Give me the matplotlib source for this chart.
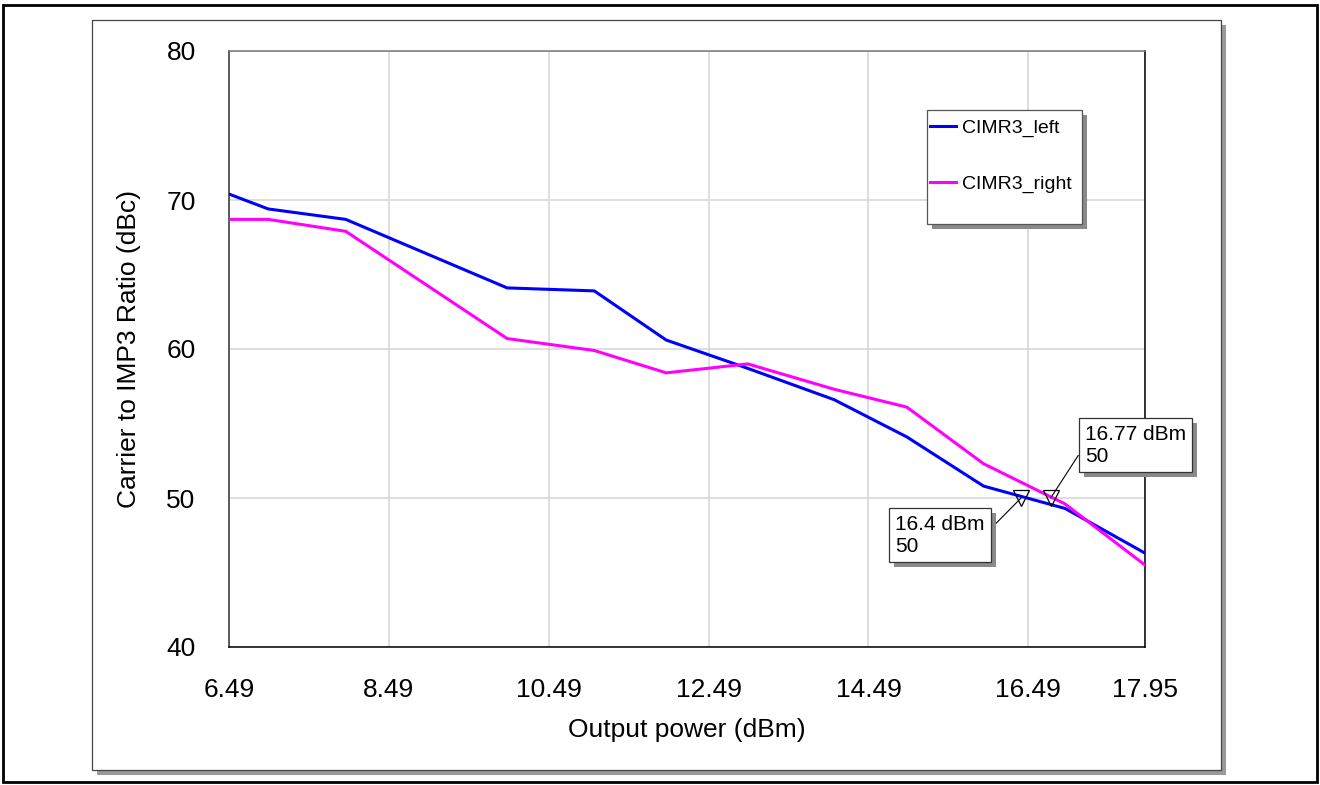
import matplotlib
matplotlib.use("Agg")
import matplotlib.pyplot as plt
import matplotlib.patheffects as pe
from matplotlib.patches import Rectangle

plt.rcParams["font.family"] = ["Liberation Sans", "DejaVu Sans"]

# ---- data -----------------------------------------------------------
out_power = [6.49, 6.98, 7.95, 9.97, 11.06, 11.96, 12.98, 14.06, 14.97, 15.93, 16.95, 17.95]
cimr3_left = [70.4, 69.4, 68.7, 64.1, 63.9, 60.6, 58.7, 56.6, 54.1, 50.8, 49.3, 46.3]
cimr3_right = [68.7, 68.7, 67.9, 60.7, 59.9, 58.4, 59.0, 57.3, 56.1, 52.3, 49.6, 45.5]

x_ticks = [6.49, 8.49, 10.49, 12.49, 14.49, 16.49, 17.95]
y_ticks = [40, 50, 60, 70, 80]

marker_x = [16.4, 16.77]
marker_y = [50, 50]
marker_text = ["16.4 dBm\n50", "16.77 dBm\n50"]
# ----------------------------------------------------------------------

W, H = 1320, 785


def fx(x):
    return x / W


def fy(y):
    # pixel y from top -> figure fraction from bottom
    return 1 - y / H


def shadow(off=3.6, color="#999999"):
    return [pe.SimplePatchShadow(offset=(off, -off), shadow_rgbFace=color, alpha=1.0),
            pe.Normal()]


fig = plt.figure(figsize=(W / 100, H / 100), dpi=100)

# outer border + inner panel with drop shadow
fig.add_artist(Rectangle((fx(3), fy(782)), fx(1314), 777 / H, transform=fig.transFigure,
                         fc="none", ec="black", lw=2.0, zorder=-2))
panel = Rectangle((fx(92), fy(770)), fx(1129), 750 / H, transform=fig.transFigure,
                  fc="white", ec="#444444", lw=0.9, zorder=-1)
panel.set_path_effects(shadow(3.6, "#9a9a9a"))
fig.add_artist(panel)

ax = fig.add_axes([fx(229), fy(647), fx(916), 596 / H])
ax.set_facecolor("white")

ax.plot(out_power, cimr3_left, color="#0000ff", lw=2.2, label="CIMR3_left", zorder=3)
ax.plot(out_power, cimr3_right, color="#ff00ff", lw=2.2, label="CIMR3_right", zorder=3)

ax.set_xlim(x_ticks[0], x_ticks[-1])
ax.set_ylim(y_ticks[0], y_ticks[-1])
ax.set_xticks(x_ticks)
ax.set_xticklabels([f"{v:g}" for v in x_ticks])
ax.set_yticks(y_ticks)
ax.tick_params(length=0, labelsize=19)
ax.tick_params(axis="x", pad=22)
ax.tick_params(axis="y", pad=24)
ax.grid(True, color="#d4d4d4", lw=1.1, zorder=1)
ax.set_axisbelow(True)

ax.set_xlabel("Output power (dBm)", fontsize=19, labelpad=12)
ax.set_ylabel("Carrier to IMP3 Ratio (dBc)", fontsize=19, labelpad=18)

for side, col in [("left", "#333333"), ("top", "#777777"), ("right", "black"), ("bottom", "black")]:
    ax.spines[side].set_color(col)
    ax.spines[side].set_linewidth(1.1)

# legend frame with shadow
leg_box = Rectangle((fx(927), fy(224)), fx(155), 114 / H, transform=fig.transFigure,
                    fc="white", ec="#555555", lw=0.9, zorder=4, clip_on=False)
leg_box.set_path_effects(shadow(3.6, "#8a8a8a"))
ax.add_artist(leg_box)
leg = ax.legend(loc="center left", bbox_to_anchor=(fx(930), fy(156)),
                bbox_transform=fig.transFigure, frameon=False, fontsize=14,
                borderpad=0, borderaxespad=0, handlelength=1.35,
                handletextpad=0.3, labelspacing=1.95)
leg.set_zorder(5)

# markers and readout boxes
ax.plot(marker_x, marker_y, ls="none", marker="v", ms=12, mfc="none",
        mec="black", mew=0.9, zorder=4)

text_pos = [(895, 535), (1085, 445)]
rel = [(1, 0.5), (0, 0.5)]
for mx, my, txt, (tx, ty), rp in zip(marker_x, marker_y, marker_text, text_pos, rel):
    a = ax.annotate(txt, xy=(mx, my), xytext=(tx, H - ty), textcoords="figure pixels",
                    ha="left", va="center", fontsize=15, zorder=6,
                    bbox=dict(boxstyle="square,pad=0.3", fc="white", ec="#333333", lw=0.9),
                    arrowprops=dict(arrowstyle="-", color="black", lw=0.8,
                                    relpos=rp, shrinkA=0, shrinkB=0))
    a.get_bbox_patch().set_path_effects(shadow(3.6, "#8a8a8a"))

fig.savefig("out.png", dpi=100)
